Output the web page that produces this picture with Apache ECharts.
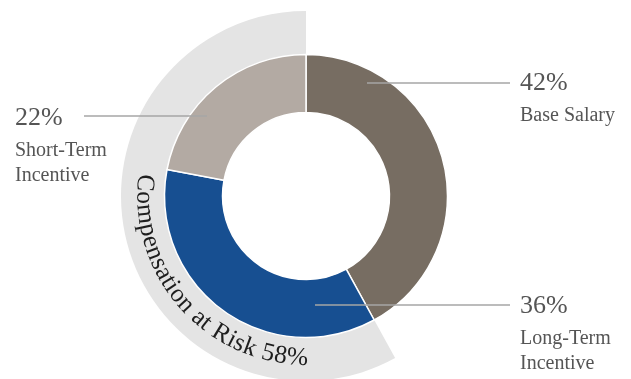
<!DOCTYPE html>
<html>
<head>
<meta charset="utf-8">
<script src="https://cdn.jsdelivr.net/npm/echarts@6/dist/echarts.min.js"></script>
<style>
  html, body { margin: 0; padding: 0; background: #fff; }
  #main { width: 631px; height: 379px; }
</style>
</head>
<body>
<div id="main"></div>
<script>
// data
const categories = ['Base Salary', 'Long-Term Incentive', 'Short-Term Incentive'];
const values = [42, 36, 22];
const labelNames = ['Base Salary', 'Long-Term\nIncentive', 'Short-Term\nIncentive'];
const atRisk = values[1] + values[2];
const ringTitle = 'Compensation at Risk ' + atRisk + '%';

// look
const colors = ['#776d62', '#174f91', '#b3aaa3'];
const FONT = '"Liberation Serif", "Times New Roman", serif';
const CX = 306, CY = 196;
// label anchors (left/top of label box) and leader line start/end
const labelPos = [[520, 63], [520, 286], [15, 98]];
const linePts = [[[367, 83], [510, 83]], [[315, 305], [510, 305]], [[207, 116], [84, 116]]];

const chart = echarts.init(document.getElementById('main'));

// curved text along the grey ring
function arcText(text, r, midDeg, size) {
  const ctx = document.createElement('canvas').getContext('2d');
  ctx.font = size + 'px ' + FONT;
  const ws = text.split('').map(c => ctx.measureText(c).width);
  const total = ws.reduce((a, b) => a + b, 0);
  let th = midDeg * Math.PI / 180 - (total / 2) / r;
  const out = [];
  text.split('').forEach((c, i) => {
    const a = th + (ws[i] / 2) / r;
    out.push({
      type: 'text',
      x: CX + r * Math.cos(a),
      y: CY - r * Math.sin(a),
      rotation: a - 1.5 * Math.PI,
      silent: true,
      z: 10,
      style: {
        text: c,
        font: size + 'px ' + FONT,
        fill: '#1e1e1e',
        align: 'center', verticalAlign: 'middle',
        textAlign: 'center', textVerticalAlign: 'middle'
      }
    });
    th += ws[i] / r;
  });
  return out;
}

const donutData = categories.map((c, i) => ({ name: c, value: values[i], itemStyle: { color: colors[i] } }));

chart.setOption({
  animation: false,
  backgroundColor: '#fff',
  graphic: arcText(ringTitle, 162, 221.5, 25.5),
  series: [
    {
      type: 'pie',
      silent: true,
      center: [CX, CY],
      radius: [141, 185],
      startAngle: 90,
      clockwise: true,
      label: { show: false },
      labelLine: { show: false },
      data: [
        { value: values[0], itemStyle: { color: 'rgba(0,0,0,0)' } },
        { value: atRisk, itemStyle: { color: '#e4e4e4' } }
      ],
      z: 1
    },
    {
      type: 'pie',
      silent: true,
      center: [CX, CY],
      radius: [83.5, 141.5],
      startAngle: 90,
      clockwise: true,
      itemStyle: { borderColor: '#fff', borderWidth: 1.5 },
      data: donutData,
      label: { show: false },
      labelLine: { show: false },
      z: 2
    },
    {
      // transparent copy on top, carries the labels and leader lines
      type: 'pie',
      silent: true,
      center: [CX, CY],
      radius: [83.5, 141.5],
      startAngle: 90,
      clockwise: true,
      itemStyle: { color: 'rgba(0,0,0,0)' },
      data: categories.map((c, i) => ({ name: c, value: values[i] })),
      label: {
        show: true,
        formatter: p => '{p|' + values[p.dataIndex] + '%}\n' +
          labelNames[p.dataIndex].split('\n').map(s => '{n|' + s + '}').join('\n'),
        rich: {
          p: { fontFamily: FONT, fontSize: 26, lineHeight: 40, color: '#555' },
          n: { fontFamily: FONT, fontSize: 20, lineHeight: 25, color: '#555' }
        }
      },
      labelLine: { show: true, lineStyle: { color: '#a6a6a6', width: 1.3 } },
      labelLayout: p => {
        const i = p.dataIndex;
        const l = linePts[i];
        return {
          x: labelPos[i][0], y: labelPos[i][1],
          align: 'left', verticalAlign: 'top',
          labelLinePoints: [l[0], l[1], l[1]]
        };
      },
      z: 3
    }
  ]
});
</script>
</body>
</html>
